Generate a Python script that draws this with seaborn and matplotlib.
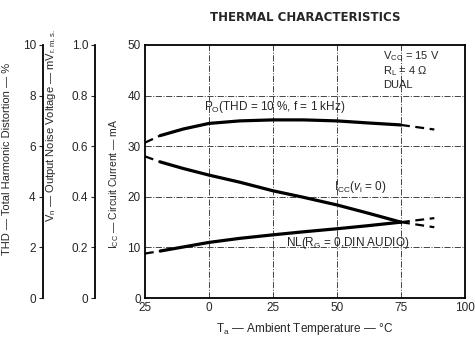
import numpy as np
import pandas as pd
import matplotlib
matplotlib.use("Agg")
import matplotlib.pyplot as plt
import seaborn as sns

# ---- data ----
temp = [-25, -19, -10, 0, 12, 25, 37, 50, 62, 75, 88]
po_ma = [30.7, 32.1, 33.4, 34.5, 35.0, 35.2, 35.2, 35.0, 34.6, 34.2, 33.3]
icc_ma = [28.0, 26.9, 25.6, 24.3, 22.9, 21.2, 19.9, 18.4, 16.8, 15.0, 14.0]
nl_ma = [8.8, 9.3, 10.1, 11.0, 11.8, 12.5, 13.1, 13.7, 14.3, 15.0, 15.8]
solid_from, solid_to = -19, 75

x_ticks = [-25, 0, 25, 50, 75, 100]
x_tick_labels = ["25", "0", "25", "50", "75", "100"]
icc_ticks = [0, 10, 20, 30, 40, 50]
thd_ticks = [0, 2, 4, 6, 8, 10]
vn_ticks = [0, 0.2, 0.4, 0.6, 0.8, 1.0]
vn_tick_labels = ["0", "0.2", "0.4", "0.6", "0.8", "1.0"]

sns.set_style("white")
plt.rcParams["font.family"] = ["Liberation Sans", "DejaVu Sans"]
plt.rcParams["mathtext.fontset"] = "custom"
plt.rcParams["mathtext.rm"] = "Liberation Sans"
plt.rcParams["mathtext.it"] = "Liberation Sans:italic"

fig = plt.figure(figsize=(4.75, 3.38), dpi=100)
ax = fig.add_axes([0.305, 0.118, 0.674, 0.749])

df = pd.DataFrame({"T": temp, "Po": po_ma, "Icc": icc_ma, "NL": nl_ma})
solid = df[(df["T"] >= solid_from) & (df["T"] <= solid_to)]
left = df[df["T"] <= solid_from]
right = df[df["T"] >= solid_to]

for col in ["Po", "Icc", "NL"]:
    sns.lineplot(data=solid, x="T", y=col, ax=ax, color="black", lw=2.3,
                 estimator=None, sort=False)
    sns.lineplot(data=left, x="T", y=col, ax=ax, color="black", lw=1.6,
                 linestyle=(0, (4, 2.5)), estimator=None, sort=False)
    sns.lineplot(data=right, x="T", y=col, ax=ax, color="black", lw=1.6,
                 linestyle=(0, (4, 2.5)), estimator=None, sort=False)

ax.set_xlim(-25, 100)
ax.set_ylim(0, 50)
ax.set_xticks(x_ticks)
ax.set_xticklabels(x_tick_labels)
ax.set_yticks(icc_ticks)
ax.tick_params(axis="both", length=0, labelsize=8.5, pad=3)
for gx in x_ticks[1:-1]:
    ax.axvline(gx, color="#444444", lw=0.7, ls="-.", zorder=0)
for gy in icc_ticks[1:-1]:
    ax.axhline(gy, color="#444444", lw=0.7, ls="-.", zorder=0)
for s in ax.spines.values():
    s.set_color("black")
    s.set_linewidth(1.3)

ax.set_xlabel(r"T$_\mathrm{a}$ — Ambient Temperature — °C", fontsize=8.5, labelpad=5)
ax.set_ylabel(r"I$_\mathrm{CC}$ — Circuit Current — mA", fontsize=7.5)
ax.yaxis.set_label_coords(-0.075, 0.45)

# extra left axes
def extra_axis(pos, ticks, labels, lim, label, label_x, label_y):
    par = ax.twinx()
    par.set_ylim(*lim)
    for k in ["top", "right", "bottom"]:
        par.spines[k].set_visible(False)
    par.spines["left"].set_visible(True)
    par.spines["left"].set_position(("axes", pos))
    par.spines["left"].set_linewidth(1.3)
    par.spines["left"].set_color("black")
    par.yaxis.set_ticks_position("left")
    par.yaxis.set_label_position("left")
    par.set_yticks(ticks)
    par.set_yticklabels(labels)
    par.tick_params(axis="y", length=3, width=0.8, labelsize=8.5, pad=2, direction="out")
    par.set_ylabel(label, fontsize=8)
    par.yaxis.set_label_coords(label_x, label_y)
    return par

extra_axis(-0.155, vn_ticks, vn_tick_labels, (0, 1.0),
           r"V$_\mathrm{n}$ — Output Noise Voltage — mV$_\mathrm{r.m.s.}$", -0.27, 0.68)
extra_axis(-0.319, thd_ticks, [str(t) for t in thd_ticks], (0, 10),
           "THD — Total Harmonic Distortion — %", -0.415, 0.55)

# annotations
ax.text(-2, 37.7, r"P$_\mathrm{O}$(THD = 10 %, f = 1 kHz)", fontsize=8.5, va="center", ha="left")
ax.text(49, 21.9, r"I$_\mathrm{CC}$($v_\mathrm{i}$ = 0)", fontsize=8.5, va="center", ha="left")
ax.text(30, 10.9, r"NL(R$_\mathrm{G}$ = 0,DIN AUDIO)", fontsize=8.5, va="center", ha="left")
ax.text(68, 47.7, r"V$_\mathrm{CC}$ = 15 V", fontsize=8, va="center", ha="left")
ax.text(68, 44.9, r"R$_\mathrm{L}$ = 4 Ω", fontsize=8, va="center", ha="left")
ax.text(68, 42.1, "DUAL", fontsize=8, va="center", ha="left")

fig.text(0.643, 0.947, "THERMAL CHARACTERISTICS", fontsize=8.5, fontweight="bold",
         ha="center", va="center", family=["DejaVu Sans"])

fig.savefig("out.png", dpi=100)
